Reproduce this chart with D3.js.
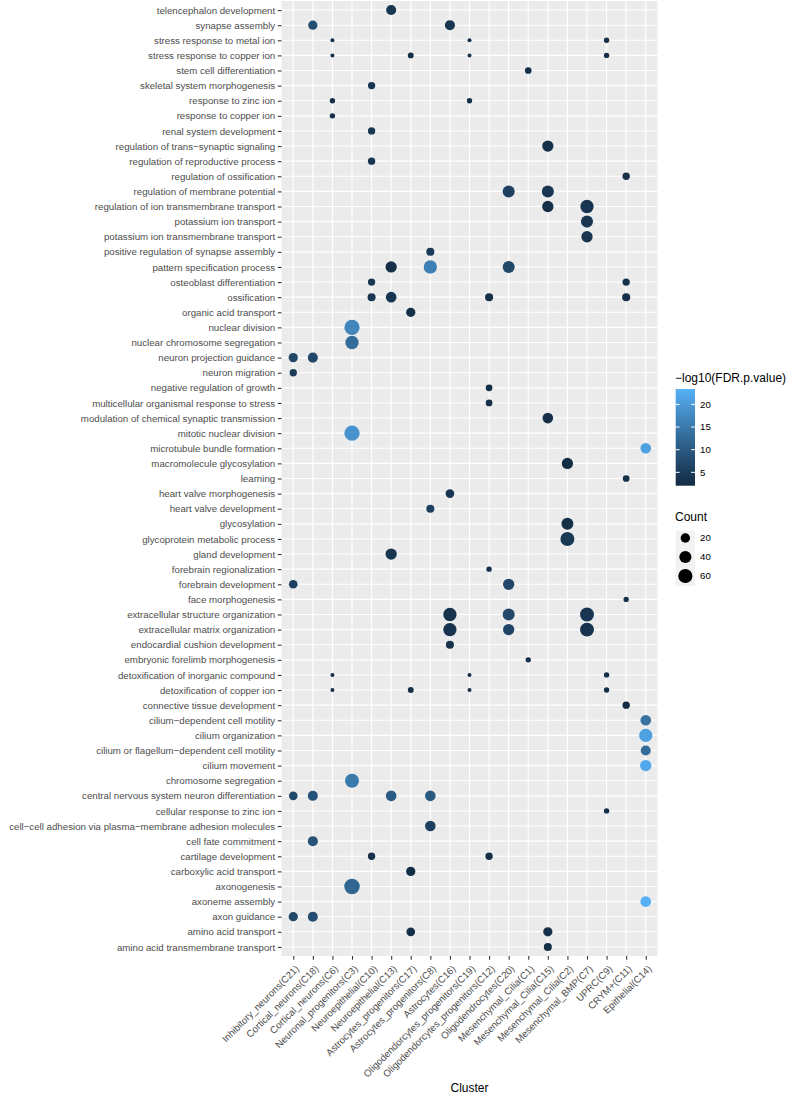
<!DOCTYPE html>
<html>
<head>
<meta charset="utf-8">
<script src="https://cdn.jsdelivr.net/npm/d3@7"></script>
<style>
  html, body { margin: 0; padding: 0; background: #ffffff; }
  svg { display: block; font-family: "Liberation Sans", Arial, Helvetica, sans-serif; }
</style>
</head>
<body>
<svg id="chart" width="789" height="1094"></svg>
<script>
// ---------------- DATA ----------------
const clusters = [
  "Inhibitory_neurons(C21)", "Cortical_neurons(C18)", "Cortical_neurons(C6)",
  "Neuronal_progenitors(C3)", "Neuroepithelial(C10)", "Neuroepithelial(C13)",
  "Astrocytes_progenitors(C17)", "Astrocytes_progenitors(C8)", "Astrocytes(C16)",
  "Oligodendorcytes_progenitors(C19)", "Oligodendorcytes_progenitors(C12)",
  "Oligodendrocytes(C20)", "Mesenchymal_Cilia(C1)", "Mesenchymal_Cilia(C15)",
  "Mesenchymal_Cilia(C2)", "Mesenchymal_BMP(C7)", "UPRC(C9)", "CRYM+(C11)", "Epithelial(C14)"
];

// top to bottom
const terms = [
  "telencephalon development",
  "synapse assembly",
  "stress response to metal ion",
  "stress response to copper ion",
  "stem cell differentiation",
  "skeletal system morphogenesis",
  "response to zinc ion",
  "response to copper ion",
  "renal system development",
  "regulation of trans\u2212synaptic signaling",
  "regulation of reproductive process",
  "regulation of ossification",
  "regulation of membrane potential",
  "regulation of ion transmembrane transport",
  "potassium ion transport",
  "potassium ion transmembrane transport",
  "positive regulation of synapse assembly",
  "pattern specification process",
  "osteoblast differentiation",
  "ossification",
  "organic acid transport",
  "nuclear division",
  "nuclear chromosome segregation",
  "neuron projection guidance",
  "neuron migration",
  "negative regulation of growth",
  "multicellular organismal response to stress",
  "modulation of chemical synaptic transmission",
  "mitotic nuclear division",
  "microtubule bundle formation",
  "macromolecule glycosylation",
  "learning",
  "heart valve morphogenesis",
  "heart valve development",
  "glycosylation",
  "glycoprotein metabolic process",
  "gland development",
  "forebrain regionalization",
  "forebrain development",
  "face morphogenesis",
  "extracellular structure organization",
  "extracellular matrix organization",
  "endocardial cushion development",
  "embryonic forelimb morphogenesis",
  "detoxification of inorganic compound",
  "detoxification of copper ion",
  "connective tissue development",
  "cilium\u2212dependent cell motility",
  "cilium organization",
  "cilium or flagellum\u2212dependent cell motility",
  "cilium movement",
  "chromosome segregation",
  "central nervous system neuron differentiation",
  "cellular response to zinc ion",
  "cell\u2212cell adhesion via plasma\u2212membrane adhesion molecules",
  "cell fate commitment",
  "cartilage development",
  "carboxylic acid transport",
  "axonogenesis",
  "axoneme assembly",
  "axon guidance",
  "amino acid transport",
  "amino acid transmembrane transport"
];

// per term: cluster indices with a dot
const dotCols = [
  [5],[1,8],[2,9,16],[2,6,9,16],[12],[4],[2,9],[2],[4],[13],
  [4],[17],[11,13],[13,15],[15],[15],[7],[5,7,11],[4,17],[4,5,10,17],
  [6],[3],[3],[0,1],[0],[10],[10],[13],[3],[18],
  [14],[17],[8],[7],[14],[14],[5],[10],[0,11],[17],
  [8,11,15],[8,11,15],[8],[12],[2,9,16],[2,6,9,16],[17],[18],[18],[18],
  [18],[3],[0,1,5,7],[16],[7],[1],[4,10],[6],[3],[18],
  [0,1],[6,13],[13]
];
// per term: gene counts for those dots
const dotCounts = [
  [24],[19,24],[4,4,5],[4,6,4,5],[8],[10],[5,5],[5],[10],[33],
  [10],[10],[39,39],[33,51],[39],[33],[13],[33,51,39],[10,10],[13,28,13,13],
  [19],[73],[51],[19,24],[10],[8],[8],[28],[73],[28],
  [33],[8],[16],[13],[39],[58],[33],[5],[16,33],[5],
  [51,39,58],[51,33,58],[13],[5],[4,4,5],[4,6,4,5],[10],[28],[51],[24],
  [33],[58],[16,24,28,28],[5],[28],[24],[10,10],[19],[76],[28],
  [19,24],[16,19],[13]
];
// per term: -log10(FDR p value) for those dots
const dotLogFDR = [
  [4],[8,4],[3,3,3],[3,3,3,3],[3],[4],[3,3],[3],[4],[3],
  [4],[3],[6,4],[3,4],[4],[4],[5],[3,16,7],[4,3],[4,4,3,3],
  [3],[17],[13],[7,7],[5],[3],[3],[3],[19],[21],
  [2.5],[3],[4],[6],[3],[4.5],[4],[3],[6,7],[3],
  [3.5,7,4],[3.5,6.5,3.5],[3.5],[3],[3,3,3],[3,3,3,3],[2.05],[14],[21],[13],
  [22],[15],[7,9,10,10],[3],[6],[9],[3,3],[2.5],[12],[23.4],
  [7,8],[3,3],[3]
];

const colorTicks = [5, 10, 15, 20];
const sizeBreaks = [20, 40, 60];

// ---------------- LAYOUT ----------------
const svg = d3.select("#chart");
const panel = { left: 281.5, right: 657.5, top: 1, bottom: 956 };

const x = d3.scalePoint().domain(clusters).range([panel.left, panel.right]).padding(0.6);
const y = d3.scalePoint().domain(terms).range([panel.top, panel.bottom]).padding(0.6);

const dots = [];
terms.forEach((t, i) => {
  dotCols[i].forEach((c, j) => {
    dots.push({ term: t, cluster: clusters[c], count: dotCounts[i][j], fdr: dotLogFDR[i][j] });
  });
});

const fdrExtent = d3.extent(dots, d => d.fdr);
const countExtent = d3.extent(dots, d => d.count);
const color = d3.scaleLinear().domain(fdrExtent).range(["#132B43", "#56B1F7"]).interpolate(d3.interpolateLab);
const sizeNorm = d3.scaleLinear().domain(countExtent).range([0, 1]);
const rBase = d3.scaleSqrt().domain([0, 1]).range([2, 7.75]);
const r = v => rBase(sizeNorm(v));

// panel background
svg.append("rect")
  .attr("x", panel.left).attr("y", panel.top)
  .attr("width", panel.right - panel.left).attr("height", panel.bottom - panel.top)
  .attr("fill", "#EBEBEB");

// grid
const grid = svg.append("g").attr("stroke", "#ffffff").attr("stroke-width", 1.1);
grid.selectAll("line.v").data(clusters).join("line")
  .attr("x1", d => x(d)).attr("x2", d => x(d))
  .attr("y1", panel.top).attr("y2", panel.bottom);
grid.selectAll("line.h").data(terms).join("line")
  .attr("y1", d => y(d)).attr("y2", d => y(d))
  .attr("x1", panel.left).attr("x2", panel.right);

// dots
svg.append("g").selectAll("circle").data(dots).join("circle")
  .attr("cx", d => x(d.cluster))
  .attr("cy", d => y(d.term))
  .attr("r", d => r(d.count))
  .attr("fill", d => color(d.fdr));

// y axis
const yAxis = d3.axisLeft(y).tickSize(3.7).tickPadding(2.6);
const gy = svg.append("g").attr("transform", `translate(${panel.left},0)`).call(yAxis);
gy.select(".domain").remove();
gy.selectAll(".tick line").attr("stroke", "#333333").attr("stroke-width", 1.07);
gy.selectAll(".tick text").attr("fill", "#4D4D4D").style("font-size", "9.7px")
  .style("font-family", "'Liberation Sans', Arial, sans-serif");

// x axis
const xAxis = d3.axisBottom(x).tickSize(3.7).tickPadding(2);
const gx = svg.append("g").attr("transform", `translate(0,${panel.bottom})`).call(xAxis);
gx.select(".domain").remove();
gx.selectAll(".tick line").attr("stroke", "#333333").attr("stroke-width", 1.07);
gx.selectAll(".tick text")
  .attr("fill", "#4D4D4D").style("font-size", "9.7px")
  .style("font-family", "'Liberation Sans', Arial, sans-serif")
  .attr("text-anchor", "end")
  .attr("y", 0).attr("x", 0).attr("dy", "0.72em")
  .attr("transform", "translate(1,8.5) rotate(-45)");

// x title
svg.append("text")
  .attr("x", (panel.left + panel.right) / 2).attr("y", 1092)
  .attr("text-anchor", "middle")
  .style("font-size", "12px").attr("fill", "#000")
  .text("Cluster");

// ---------------- LEGENDS ----------------
const lgX = 675.7, barW = 19.3, barTop = 389, barBot = 485.7;
svg.append("text").attr("x", 675).attr("y", 381.5)
  .style("font-size", "12px").attr("fill", "#000")
  .text("\u2212log10(FDR.p.value)");

const defs = svg.append("defs");
const grad = defs.append("linearGradient").attr("id", "cbar")
  .attr("x1", 0).attr("x2", 0).attr("y1", 1).attr("y2", 0);
d3.range(0, 1.0001, 0.05).forEach(t => {
  grad.append("stop").attr("offset", t)
    .attr("stop-color", color(fdrExtent[0] + t * (fdrExtent[1] - fdrExtent[0])));
});
svg.append("rect").attr("x", lgX).attr("y", barTop).attr("width", barW).attr("height", barBot - barTop)
  .attr("fill", "url(#cbar)");

const cy = d3.scaleLinear().domain(fdrExtent).range([barBot, barTop]);
const cticks = svg.append("g");
colorTicks.forEach(v => {
  cticks.append("line").attr("x1", lgX).attr("x2", lgX + barW / 5)
    .attr("y1", cy(v)).attr("y2", cy(v)).attr("stroke", "#ffffff").attr("stroke-width", 1);
  cticks.append("line").attr("x1", lgX + barW - barW / 5).attr("x2", lgX + barW)
    .attr("y1", cy(v)).attr("y2", cy(v)).attr("stroke", "#ffffff").attr("stroke-width", 1);
  cticks.append("text").attr("x", 700).attr("y", cy(v)).attr("dy", "0.35em")
    .style("font-size", "9.7px").attr("fill", "#000").text(v);
});

svg.append("text").attr("x", 675).attr("y", 520.5)
  .style("font-size", "12px").attr("fill", "#000").text("Count");
svg.append("rect").attr("x", lgX).attr("y", 531).attr("width", barW).attr("height", 55)
  .attr("fill", "#F2F2F2");
const keyY = d3.scalePoint().domain(sizeBreaks).range([538, 576]);
sizeBreaks.forEach(v => {
  svg.append("circle").attr("cx", lgX + barW / 2).attr("cy", keyY(v)).attr("r", r(v)).attr("fill", "#000");
  svg.append("text").attr("x", 700).attr("y", keyY(v)).attr("dy", "0.35em")
    .style("font-size", "9.7px").attr("fill", "#000").text(v);
});
</script>
</body>
</html>
